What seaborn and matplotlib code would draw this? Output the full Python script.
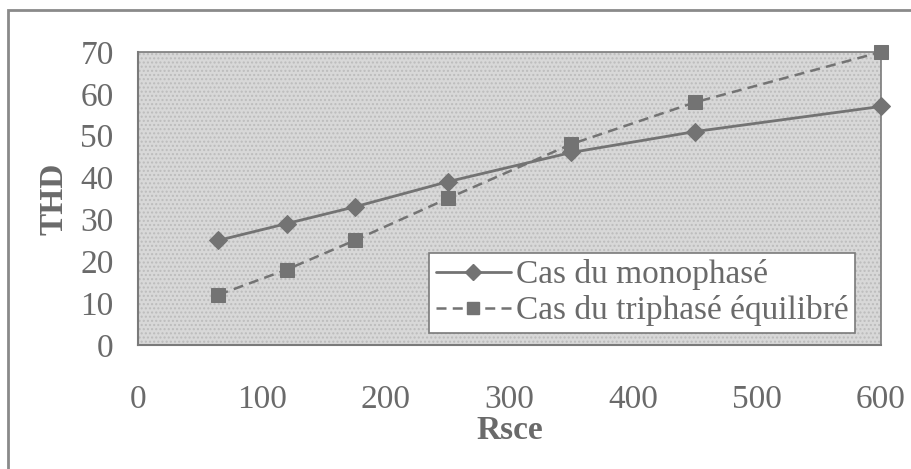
import matplotlib
matplotlib.use("Agg")
import matplotlib.pyplot as plt
from matplotlib.patches import Rectangle
from matplotlib.lines import Line2D
import seaborn as sns
import pandas as pd

# Short-circuit ratio values and measured THD for each supply case
rsce = [65, 120, 175, 250, 350, 450, 600]
thd_mono = [25, 29, 33, 39, 46, 51, 57]
thd_tri = [12, 18, 25, 35, 48, 58, 70]
label_mono = "Cas du monophasé"
label_tri = "Cas du triphasé équilibré"
x_ticks = [0, 100, 200, 300, 400, 500, 600]
y_ticks = [0, 10, 20, 30, 40, 50, 60, 70]

df = pd.DataFrame({
    "Rsce": rsce * 2,
    "THD": thd_mono + thd_tri,
    "cas": [label_mono] * len(rsce) + [label_tri] * len(rsce),
})

sns.set_style("white")
plt.rcParams["font.family"] = ["Liberation Serif", "DejaVu Serif"]

text_c = "#6a6a6a"
line_c = "#737373"
fs = 24

fig = plt.figure(figsize=(9.11, 4.69), dpi=100)
ax = fig.add_axes([138 / 911, 1 - 345 / 469, 743 / 911, 293 / 469])

# plot area background with a fine dotted texture
ax.set_facecolor("#d8d8d8")
ax.add_patch(Rectangle((0, 0), 1, 1, transform=ax.transAxes, facecolor="none",
                       edgecolor="#bcbcbc", hatch="....", linewidth=0, zorder=0))

sns.lineplot(data=df[df["cas"] == label_mono], x="Rsce", y="THD", ax=ax,
             color=line_c, linewidth=2.0, marker="D", markersize=9,
             markeredgecolor=line_c, markerfacecolor=line_c, legend=False, zorder=3,
             clip_on=False)
sns.lineplot(data=df[df["cas"] == label_tri], x="Rsce", y="THD", ax=ax,
             color=line_c, linewidth=1.8, marker="s", markersize=10,
             markeredgecolor=line_c, markerfacecolor=line_c, legend=False, zorder=3,
             clip_on=False)
ax.lines[1].set_dashes((4, 2.5))

ax.set_xlim(0, 600)
ax.set_ylim(0, 70)
ax.set_xticks(x_ticks)
ax.set_yticks(y_ticks)
ax.tick_params(axis="both", direction="inout", length=13, width=1, color="#808080",
               labelsize=fs, labelcolor=text_c)
ax.tick_params(axis="y", pad=11)
ax.tick_params(axis="x", pad=22)
ax.set_xlabel("Rsce", fontsize=fs, fontweight="bold", color=text_c, labelpad=0)
ax.set_ylabel("THD", fontsize=fs, fontweight="bold", color=text_c, labelpad=8)

for side in ["top", "right"]:
    ax.spines[side].set_linestyle((0, (1, 1)))
    ax.spines[side].set_color("#7a7a7a")
    ax.spines[side].set_linewidth(1.2)
for side in ["left", "bottom"]:
    ax.spines[side].set_color("#7a7a7a")
    ax.spines[side].set_linewidth(1.5)

handles = [
    Line2D([], [], color=line_c, linewidth=2.0, marker="D", markersize=8,
           markerfacecolor=line_c, markeredgecolor=line_c),
    Line2D([], [], color=line_c, linewidth=1.8, linestyle=(0, (4, 2.5)), marker="s",
           markersize=9, markerfacecolor=line_c, markeredgecolor=line_c),
]
leg = ax.legend(handles, [label_mono, label_tri], loc="lower right",
                bbox_to_anchor=(0.965, 0.041), fontsize=fs, frameon=True,
                fancybox=False, framealpha=1, edgecolor="#7a7a7a", facecolor="white",
                handlelength=2.25, handletextpad=0.15, borderpad=0.2,
                labelspacing=0.15, borderaxespad=0)
leg.get_frame().set_linewidth(1.2)
for t in leg.get_texts():
    t.set_color(text_c)

# outer chart frame
fig.patches.append(Rectangle((8 / 911, -0.05), 1.1, 1 - 10 / 469 + 0.05,
                             transform=fig.transFigure, fill=False,
                             edgecolor="#8a8a8a", linewidth=2))

fig.savefig("out.png", dpi=100)
